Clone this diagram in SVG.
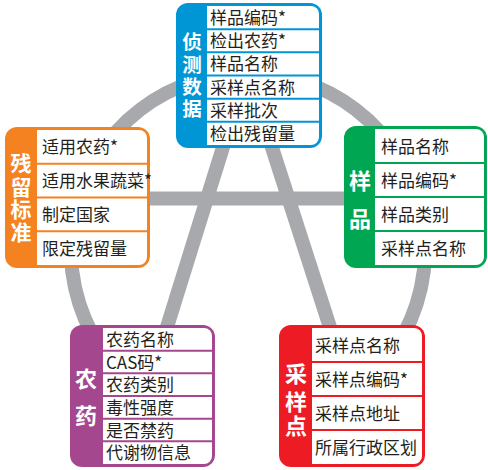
<svg xmlns="http://www.w3.org/2000/svg" width="488" height="470" viewBox="0 0 488 470">
<style>
.conn{fill:none;stroke:#a7a9ac;stroke-width:14}
.row{font-family:"Noto Sans CJK SC","Noto Sans",sans-serif;font-size:17px;fill:#231f20}
.lab{font-family:"Noto Sans CJK SC","Noto Sans",sans-serif;font-weight:bold;fill:#fff;text-anchor:middle}
.cell{fill:#fff}
</style>
<g id="connectors">
<path class="conn" d="M 109.3 360 A 177 177 0 1 1 386.7 360"/>
<line class="conn" x1="140" y1="198.5" x2="355" y2="198.5"/>
<line class="conn" x1="247" y1="70" x2="150.5" y2="380"/>
<line class="conn" x1="247" y1="70" x2="347" y2="380"/>
</g>
<g id="node-detect">
<rect x="176" y="3" width="146" height="145" rx="12" fill="#0096d6"/>
<path class="cell" d="M207 6 H311 A8 8 0 0 1 319 14 V137 A8 8 0 0 1 311 145 H207 Z"/>
<g stroke="#0096d6" stroke-width="2">
<line x1="207" y1="29.2" x2="320" y2="29.2"/><line x1="207" y1="52.3" x2="320" y2="52.3"/><line x1="207" y1="75.5" x2="320" y2="75.5"/><line x1="207" y1="98.7" x2="320" y2="98.7"/><line x1="207" y1="121.8" x2="320" y2="121.8"/>
</g>
<text class="lab" font-size="19.5"><tspan x="192" y="49.2">侦</tspan><tspan x="192" y="71.5">测</tspan><tspan x="192" y="93.8">数</tspan><tspan x="192" y="116.3">据</tspan></text>
<text class="row" x="210" y="24">样品编码*</text>
<text class="row" x="210" y="47.2">检出农药*</text>
<text class="row" x="210" y="70.4">样品名称</text>
<text class="row" x="210" y="93.6">采样点名称</text>
<text class="row" x="210" y="116.8">采样批次</text>
<text class="row" x="210" y="140">检出残留量</text>
</g>
<g id="node-residue">
<rect x="5" y="127" width="145" height="141" rx="12" fill="#f58220"/>
<path class="cell" d="M37 130 H139 A8 8 0 0 1 147 138 V257 A8 8 0 0 1 139 265 H37 Z"/>
<g stroke="#f58220" stroke-width="2">
<line x1="37" y1="163.75" x2="148" y2="163.75"/><line x1="37" y1="197.5" x2="148" y2="197.5"/><line x1="37" y1="231.25" x2="148" y2="231.25"/>
</g>
<text class="lab" font-size="21"><tspan x="21" y="171.3">残</tspan><tspan x="21" y="194.6">留</tspan><tspan x="21" y="217">标</tspan><tspan x="21" y="239.6">准</tspan></text>
<text class="row" x="42" y="153.4">适用农药*</text>
<text class="row" x="42" y="187.1">适用水果蔬菜*</text>
<text class="row" x="42" y="220.9">制定国家</text>
<text class="row" x="42" y="254.6">限定残留量</text>
</g>
<g id="node-sample">
<rect x="344" y="126" width="143" height="142" rx="12" fill="#00a651"/>
<path class="cell" d="M375 129 H476 A8 8 0 0 1 484 137 V257 A8 8 0 0 1 476 265 H375 Z"/>
<g stroke="#00a651" stroke-width="2">
<line x1="375" y1="163" x2="485" y2="163"/><line x1="375" y1="197" x2="485" y2="197"/><line x1="375" y1="231" x2="485" y2="231"/>
</g>
<text class="lab" font-size="22"><tspan x="360" y="189.2">样</tspan><tspan x="360" y="227.4">品</tspan></text>
<text class="row" x="381" y="152.5">样品名称</text>
<text class="row" x="381" y="186.5">样品编码*</text>
<text class="row" x="381" y="220.5">样品类别</text>
<text class="row" x="381" y="254.5">采样点名称</text>
</g>
<g id="node-pesticide">
<rect x="70" y="325" width="145" height="142" rx="12" fill="#a5478f"/>
<path class="cell" d="M103 328 H204 A8 8 0 0 1 212 336 V456 A8 8 0 0 1 204 464 H103 Z"/>
<g stroke="#a5478f" stroke-width="2">
<line x1="103" y1="350.7" x2="213" y2="350.7"/><line x1="103" y1="373.3" x2="213" y2="373.3"/><line x1="103" y1="396" x2="213" y2="396"/><line x1="103" y1="418.7" x2="213" y2="418.7"/><line x1="103" y1="441.3" x2="213" y2="441.3"/>
</g>
<text class="lab" font-size="22"><tspan x="86" y="387.4">农</tspan><tspan x="86" y="424.4">药</tspan></text>
<text class="row" x="106" y="345.8">农药名称</text>
<text class="row" x="106" y="368.5">CAS码*</text>
<text class="row" x="106" y="391.2">农药类别</text>
<text class="row" x="106" y="413.8">毒性强度</text>
<text class="row" x="106" y="436.5">是否禁药</text>
<text class="row" x="106" y="459.2">代谢物信息</text>
</g>
<g id="node-site">
<rect x="279" y="325" width="146" height="142" rx="12" fill="#ed1c24"/>
<path class="cell" d="M312 328 H414 A8 8 0 0 1 422 336 V456 A8 8 0 0 1 414 464 H312 Z"/>
<g stroke="#ed1c24" stroke-width="2">
<line x1="312" y1="362" x2="423" y2="362"/><line x1="312" y1="396" x2="423" y2="396"/><line x1="312" y1="430" x2="423" y2="430"/>
</g>
<text class="lab" font-size="22"><tspan x="296" y="381.7">采</tspan><tspan x="296" y="410">样</tspan><tspan x="296" y="434.2">点</tspan></text>
<text class="row" x="315" y="351.5">采样点名称</text>
<text class="row" x="315" y="385.5">采样点编码*</text>
<text class="row" x="315" y="419.5">采样点地址</text>
<text class="row" x="315" y="453.5">所属行政区划</text>
</g>
</svg>
